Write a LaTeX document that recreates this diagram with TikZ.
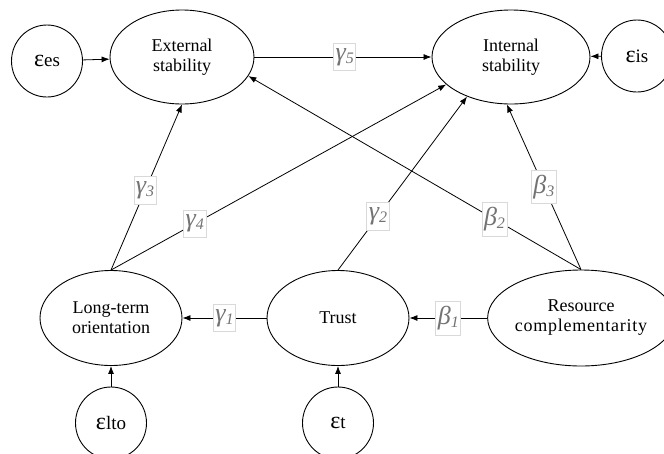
\documentclass[tikz,border=0pt]{standalone}
\usepackage{fontspec}
\setmainfont{Liberation Serif}
\usetikzlibrary{arrows.meta,shapes.geometric}
\newcommand\coefsub[2]{#1\raisebox{-3pt}{\fontsize{16}{16}\selectfont #2}}
\newcommand\eps{{\fontsize{24}{24}\selectfont ε}}
\tikzset{
  lat/.style={ellipse, draw, line width=0.9pt, inner sep=0pt, align=center, font=\fontsize{18}{20}\selectfont},
  err/.style={ellipse, draw, line width=0.9pt, inner sep=0pt, minimum width=71pt, minimum height=72pt, font=\fontsize{19}{20}\selectfont},
  arr/.style={draw, line width=0.8pt, -{Latex[length=8pt,width=6pt]}},
  coef/.style={fill=white, draw=black!15, text=black!55, inner xsep=2pt, inner ysep=5pt, font=\fontsize{26}{26}\selectfont\itshape},
}
\begin{document}
\begin{tikzpicture}[x=1pt,y=-1pt]
\useasboundingbox (0,0) rectangle (664,453);
\node[lat, minimum width=144pt, minimum height=94pt] (ext) at (182,57) {External\\stability};
\node[lat, minimum width=158pt, minimum height=94pt] (int) at (511,57) {Internal\\stability};
\node[err] (ees) at (47,61) {\eps es};
\node[err] (eis) at (637,56) {\eps is};
\node[lat, minimum width=142pt, minimum height=95pt] (lto) at (111,318) {Long-term\\orientation};
\node[lat, minimum width=142pt, minimum height=95pt] (tr) at (338,318) {Trust};
\node[lat, minimum width=156pt, minimum height=96pt] (rc) at (581,318) {Resource\\{\addfontfeatures{LetterSpace=4}complementarity}};
\node[err] (elto) at (111,423) {\eps lto};
\node[err] (et) at (338,423) {\eps t};

\draw[arr] (ees) -- (ext);
\draw[arr] (ext) -- node[coef,pos=0.51]{\coefsub{γ}{5}} (int);
\draw[arr] (eis) -- (int);
\draw[arr] (lto.north) -- node[coef,pos=0.48]{\coefsub{γ}{3}} (ext.south);
\draw[arr] (lto.north) -- node[coef,pos=0.25]{\coefsub{γ}{4}} (int.203);
\draw[arr] (tr.north) -- node[coef,pos=0.31]{\coefsub{γ}{2}} (int.222);
\draw[arr] (rc.north) -- node[coef,pos=0.26]{\coefsub{β}{2}} (ext.-16);
\draw[arr] (rc.north) -- node[coef,pos=0.5]{\coefsub{β}{3}} (int.265);
\draw[arr] (tr) -- node[coef]{\coefsub{γ}{1}} (lto);
\draw[arr] (rc) -- node[coef]{\coefsub{β}{1}} (tr);
\draw[arr] (elto) -- (lto);
\draw[arr] (et) -- (tr);
\end{tikzpicture}
\end{document}
